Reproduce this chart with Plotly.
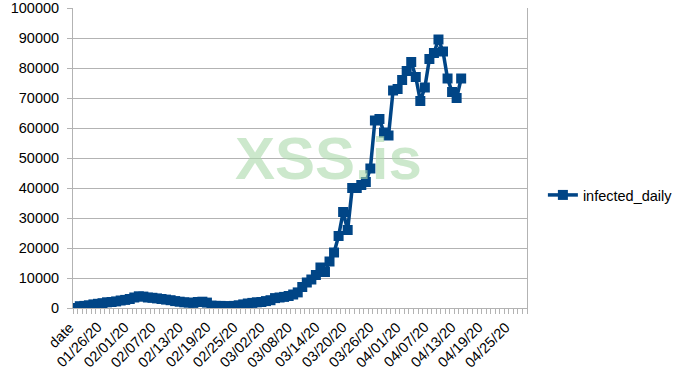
import datetime as dt
import plotly.graph_objects as go

# Categories: header cell "date" followed by daily dates
start = dt.date(2020, 1, 21)
dates = [(start + dt.timedelta(days=k)).strftime("%m/%d/%y") for k in range(99)]
categories = ["date"] + dates

# infected_daily values (index 0 = "date" header row)
infected_daily = [
    0, 600, 700, 900, 1200, 1400, 1600, 1900, 2000, 2200,
    2500, 2700, 3000, 3500, 3900, 3800, 3500, 3400, 3200, 3000,
    2800, 2600, 2300, 2100, 1900, 1800, 1700, 2000, 2100, 1800,
    800, 700, 700, 600, 600, 700, 900, 1200, 1500, 1700,
    1900, 2000, 2300, 2600, 3300, 3500, 3700, 4000, 4500, 5200,
    7000, 8500, 9500, 11000, 13500, 12000, 15500, 18500, 24000, 32000,
    26000, 40000, 40000, 41000, 42000, 46500, 62500, 63000, 58500, 57500,
    72500, 73000, 76000, 79000, 82000, 77000, 69000, 73500, 83000, 85000,
    89500, 85500, 76500, 72000, 70000, 76500,
]

y_ticks = list(range(0, 100001, 10000))
label_idx = list(range(0, len(categories), 6))
label_text = [categories[i] for i in label_idx]

x_pos = list(range(len(infected_daily)))

NAVY = "#004586"
GRID = "#b3b3b3"
FONT = "Liberation Sans"

fig = go.Figure()
fig.add_trace(go.Scatter(
    x=x_pos, y=infected_daily, name="infected_daily",
    mode="lines+markers",
    line=dict(color=NAVY, width=3.5),
    marker=dict(symbol="square", size=10, color=NAVY),
))

# rotated category labels: upper-right corner of each label at its category centre
for i, txt in zip(label_idx, label_text):
    fig.add_annotation(
        text=txt, x=i, xref="x", y=0, yref="paper",
        xanchor="right", yanchor="top", textangle=-45,
        xshift=3, yshift=-10, showarrow=False, borderpad=0,
        font=dict(family=FONT, size=14.5, color="black"),
    )

fig.add_annotation(
    text="<b>XSS.is</b>", xref="paper", yref="paper",
    x=(328 - 73) / 454, y=(308 - 158) / 300, xanchor="center", yanchor="middle",
    showarrow=False,
    font=dict(family=FONT, size=60, color="rgba(170,216,170,0.6)"),
)

fig.update_layout(
    width=687, height=387,
    margin=dict(l=73, r=160, t=8, b=79, autoexpand=False),
    paper_bgcolor="white", plot_bgcolor="white",
    font=dict(family=FONT, size=14.5, color="black"),
    showlegend=True,
    legend=dict(x=1.035, y=(308 - 195) / 300, xanchor="left", yanchor="middle",
                font=dict(family=FONT, size=14.5, color="black"), bgcolor="rgba(0,0,0,0)"),
)
fig.update_xaxes(
    range=[-0.5, len(categories) - 0.5],
    showticklabels=False, ticks="", showgrid=False,
    showline=True, linecolor=GRID, linewidth=1, mirror=False,
    zeroline=False, automargin=False,
    minor=dict(ticks="outside", ticklen=5, tickcolor=GRID, tick0=0.5, dtick=1, showgrid=False),
)
fig.update_yaxes(
    range=[0, 100000], tickmode="array", tickvals=y_ticks,
    ticktext=[str(v) for v in y_ticks],
    showgrid=True, gridcolor=GRID, gridwidth=1,
    ticks="outside", ticklen=5, tickcolor=GRID,
    showline=True, linecolor=GRID, linewidth=1, mirror=True,
    zeroline=False, automargin=False, ticklabeloverflow="allow",
    ticklabelstandoff=5,
    tickfont=dict(family=FONT, size=14.5, color="black"),
)

fig.write_html("out.html")
